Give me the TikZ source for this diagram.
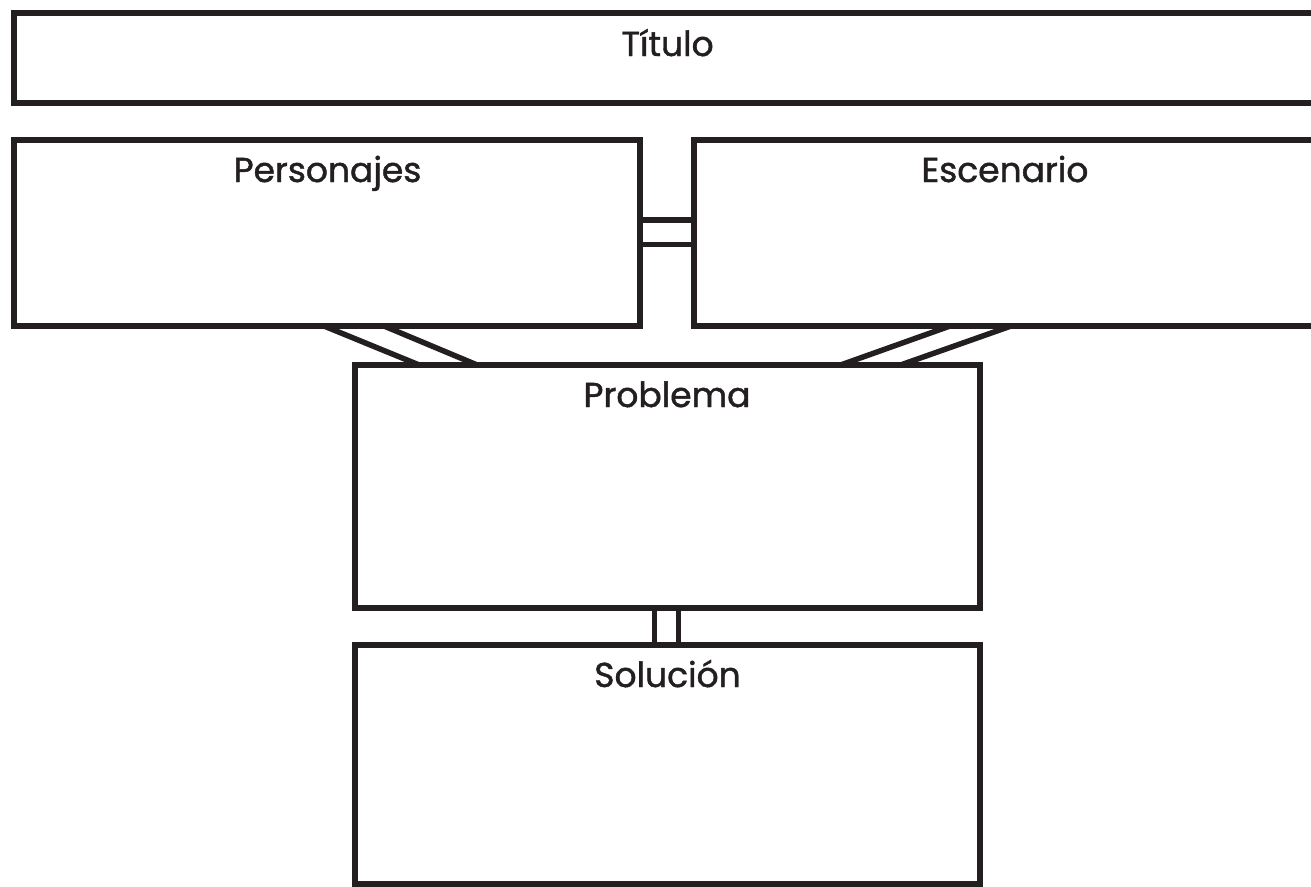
\documentclass[tikz,border=0pt]{standalone}
\usepackage{fontspec}
\setmainfont{Poppins}[FakeBold=1.3]
\definecolor{ink}{HTML}{231F20}
\begin{document}
\begin{tikzpicture}[x=1pt,y=-1pt,
  boxline/.style={draw=ink,line width=6pt},
  link/.style={draw=ink,line width=5.5pt},
  lbl/.style={anchor=base,text=ink,font=\fontsize{34.5}{40}\selectfont,inner sep=0pt}]
\useasboundingbox (0,0) rectangle (1311,886);
% boxes
\draw[boxline] (1320,13) -- (14,13) -- (14,102.5) -- (1320,102.5);
\draw[boxline] (14,140) rectangle (640,326);
\draw[boxline] (1320,140) -- (694,140) -- (694,326) -- (1320,326);
\draw[boxline] (354.5,364.5) rectangle (980,607.5);
\draw[boxline] (354.5,644.5) rectangle (980,884);
% labels
\node[lbl] (titulo) at (667.5,56) {Título};
\node[lbl] (pers) at (327.5,182) {Personajes};
\node[lbl] (esc) at (1005,182) {Escenario};
\node[lbl] (prob) at (667,407) {Problema};
\node[lbl] (sol) at (667.5,687) {Solución};
% connectors
\coordinate (a1) at (640,220); \coordinate (b1) at (694,220);
\coordinate (a2) at (640,244.5); \coordinate (b2) at (694,244.5);
\draw[link] (a1) -- (b1);
\draw[link] (a2) -- (b2);
\coordinate (c1) at (654.5,607.5); \coordinate (d1) at (654.5,644.5);
\coordinate (c2) at (678.5,607.5); \coordinate (d2) at (678.5,644.5);
\draw[link] (c1) -- (d1);
\draw[link] (c2) -- (d2);
\coordinate (e1) at (324,326); \coordinate (f1) at (418,364.5);
\coordinate (e2) at (384,326); \coordinate (f2) at (476,364.5);
\draw[link] (e1) -- (f1);
\draw[link] (e2) -- (f2);
\coordinate (g1) at (950,326); \coordinate (h1) at (842,364.5);
\coordinate (g2) at (1011,326); \coordinate (h2) at (902,364.5);
\draw[link] (g1) -- (h1);
\draw[link] (g2) -- (h2);
\end{tikzpicture}
\end{document}
